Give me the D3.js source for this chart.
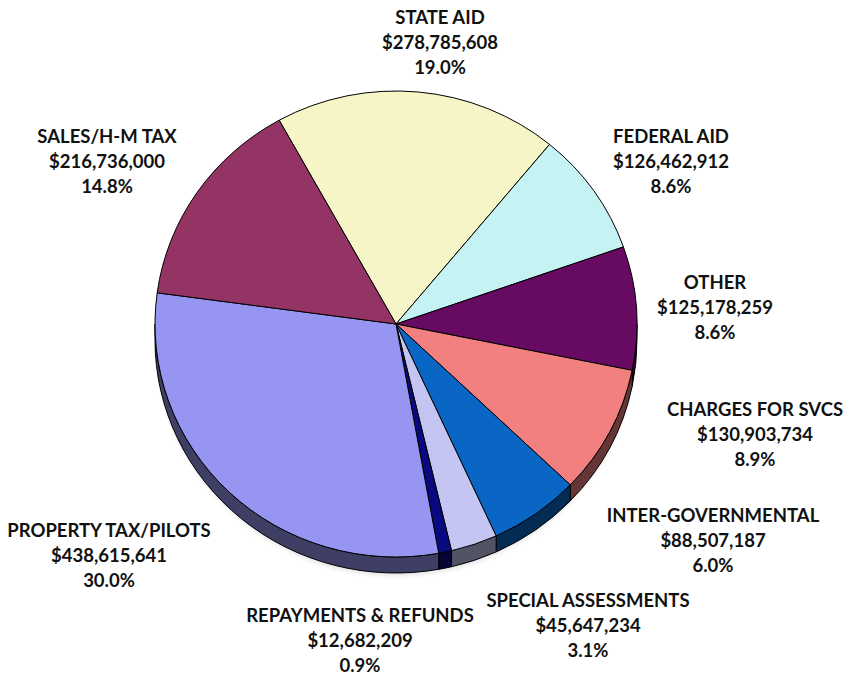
<!DOCTYPE html>
<html>
<head>
<meta charset="utf-8">
<script src="https://cdn.jsdelivr.net/npm/d3@7/dist/d3.min.js"></script>
<style>
  html, body { margin: 0; padding: 0; background: #fff; }
  svg { display: block; }
  .lbl { font-family: Lato, "Open Sans", sans-serif; font-weight: 700; font-size: 18.5px; fill: #111; }
</style>
</head>
<body>
<svg id="chart" width="845" height="677"></svg>
<script>
// Revenue sources, listed clockwise from the top of the pie
const categories = [
  "STATE AID", "FEDERAL AID", "OTHER", "CHARGES FOR SVCS", "INTER-GOVERNMENTAL",
  "SPECIAL ASSESSMENTS", "REPAYMENTS & REFUNDS", "PROPERTY TAX/PILOTS", "SALES/H-M TAX"
];
const amounts = [
  278785608, 126462912, 125178259, 130903734, 88507187,
  45647234, 12682209, 438615641, 216736000
];
const sliceColors = [
  "#F5F5C7", "#C5F3F3", "#660A62", "#F28080", "#0A66C5",
  "#C5C5F3", "#0A0A80", "#9696F2", "#943465"
];

// Layout
const W = 845, H = 677;
const cx = 396, cy = 324;      // pie centre
const rx = 241, ry = 233;      // slightly tilted disc
const depth = 16;              // visible thickness of the disc
const startDeg = -29;          // where the first slice begins (clockwise from 12 o'clock)
const lineGap = 25;            // label line spacing
// label centre (middle line) relative to the pie centre
const labelDx = [44, 275, 319, 359, 317, 192, -36, -287, -289];
const labelDy = [-282, -163, -17, 110, 216, 301, 316, 231, -163];

const svg = d3.select("#chart");
const total = d3.sum(amounts);
const data = categories.map((c, i) => ({ name: c, value: amounts[i], color: sliceColors[i], i }));

const toRad = d => d * Math.PI / 180;
const pie = d3.pie().sort(null).value(d => d.value)
  .startAngle(toRad(startDeg)).endAngle(toRad(startDeg + 360));
const arcs = pie(data);

const pt = (a, off = 0) => [cx + rx * Math.sin(a), cy - ry * Math.cos(a) + off];
const fmt = p => p[0].toFixed(2) + "," + p[1].toFixed(2);

function topPath(a0, a1) {
  const p0 = pt(a0), p1 = pt(a1);
  const large = (a1 - a0) > Math.PI ? 1 : 0;
  return `M${cx},${cy}L${fmt(p0)}A${rx},${ry} 0 ${large} 1 ${fmt(p1)}Z`;
}
function sidePath(a0, a1) {
  const p0 = pt(a0), p1 = pt(a1), q0 = pt(a0, depth), q1 = pt(a1, depth);
  return `M${fmt(p0)}A${rx},${ry} 0 0 1 ${fmt(p1)}L${fmt(q1)}A${rx},${ry} 0 0 0 ${fmt(q0)}Z`;
}
const shade = (c, k) => { const r = d3.rgb(c); return d3.rgb(r.r * k, r.g * k, r.b * k).formatHex(); };

// soft drop shadow under the disc
const defs = svg.append("defs");
defs.append("filter").attr("id", "soft").attr("x", "-20%").attr("y", "-20%").attr("width", "140%").attr("height", "140%")
  .append("feGaussianBlur").attr("stdDeviation", 3);
svg.append("ellipse")
  .attr("cx", cx).attr("cy", cy + depth + 3).attr("rx", rx - 4).attr("ry", ry - 2)
  .attr("fill", "#000").attr("opacity", 0.18).attr("filter", "url(#soft)");

// outer wall, only on the front half of the disc
const front0 = Math.PI / 2, front1 = 3 * Math.PI / 2;
svg.append("g").selectAll("path")
  .data(arcs.filter(d => d.endAngle > front0 && d.startAngle < front1))
  .join("path")
  .attr("d", d => sidePath(Math.max(d.startAngle, front0), Math.min(d.endAngle, front1)))
  .attr("fill", d => shade(d.data.color, 0.42))
  .attr("stroke", "#000").attr("stroke-width", 1).attr("stroke-linejoin", "round");

// top face
svg.append("g").selectAll("path")
  .data(arcs)
  .join("path")
  .attr("d", d => topPath(d.startAngle, d.endAngle))
  .attr("fill", d => d.data.color)
  .attr("stroke", "#000").attr("stroke-width", 1).attr("stroke-linejoin", "round");

// data labels: name, amount, share
const money = v => "$" + d3.format(",")(v);
const pct = d3.format(".1%");
const labels = svg.append("g").selectAll("text")
  .data(arcs)
  .join("text")
  .attr("class", "lbl")
  .attr("text-anchor", "middle")
  .attr("transform", d => `translate(${cx + labelDx[d.data.i]},${cy + labelDy[d.data.i]})`);
labels.each(function (d) {
  const t = d3.select(this);
  const lines = [d.data.name, money(d.data.value), pct(d.data.value / total)];
  lines.forEach((s, k) => {
    t.append("tspan").attr("x", 0).attr("y", (k - 1) * lineGap).attr("dy", "0.36em").text(s);
  });
});
</script>
</body>
</html>
